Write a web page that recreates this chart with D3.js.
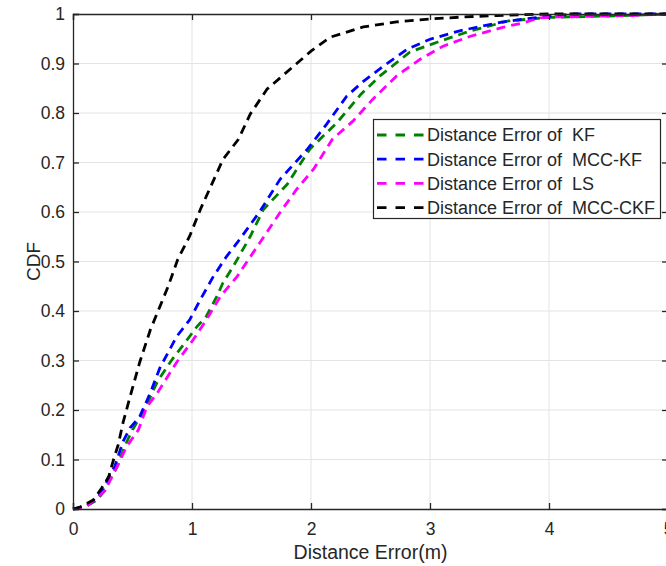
<!DOCTYPE html>
<html><head><meta charset="utf-8">
<script src="https://cdn.jsdelivr.net/npm/d3@7"></script>
<style>body{margin:0;background:#fff}svg{display:block}text{font-family:"Liberation Sans",Arial,Helvetica,sans-serif;fill:#262626;white-space:pre}</style>
</head><body><svg id="c" width="666" height="566"></svg>
<script>
const xTicks=[0,1,2,3,4,5];
const yTicks=[0,0.1,0.2,0.3,0.4,0.5,0.6,0.7,0.8,0.9,1];
const seriesNames=["Distance Error of  KF","Distance Error of  MCC-KF","Distance Error of  LS","Distance Error of  MCC-CKF"];
const seriesColors=["#008000","#0000ff","#ff00ff","#000000"];
const kfX=[0,0.1,0.2,0.27,0.32,0.37,0.44,0.5,0.6,0.71,0.83,0.96,1.04,1.12,1.21,1.26,1.32,1.38,1.49,1.6,1.8,1.99,2.22,2.42,2.58,2.83,3.06,3.34,3.66,4.0,4.5,5];
const kfY=[0,0.004,0.018,0.038,0.065,0.085,0.13,0.16,0.2,0.258,0.301,0.342,0.368,0.389,0.43,0.457,0.48,0.504,0.551,0.605,0.656,0.727,0.781,0.838,0.875,0.923,0.943,0.966,0.986,0.993,0.996,1];
const mkfX=[0,0.1,0.2,0.25,0.3,0.35,0.42,0.48,0.56,0.65,0.73,0.87,0.98,1.07,1.18,1.29,1.38,1.57,1.74,1.97,2.13,2.3,2.44,2.61,2.81,3.0,3.25,3.61,3.9,4.2,5];
const mkfY=[0,0.005,0.02,0.038,0.065,0.085,0.136,0.164,0.186,0.235,0.285,0.348,0.382,0.423,0.47,0.51,0.538,0.601,0.666,0.727,0.777,0.834,0.864,0.895,0.929,0.949,0.966,0.984,0.993,1,1];
const lsX=[0,0.1,0.2,0.27,0.37,0.45,0.55,0.62,0.71,0.87,1.01,1.12,1.24,1.38,1.57,1.74,1.88,2.02,2.18,2.35,2.52,2.72,2.92,3.11,3.34,3.61,3.78,3.92,4.07,4.3,4.7,5];
const lsY=[0,0.003,0.022,0.038,0.085,0.126,0.16,0.206,0.235,0.296,0.342,0.382,0.43,0.47,0.538,0.599,0.646,0.686,0.747,0.783,0.828,0.875,0.909,0.935,0.955,0.973,0.982,0.992,0.994,0.995,0.997,1];
const ckfX=[0,0.06,0.17,0.24,0.3,0.34,0.38,0.42,0.48,0.56,0.65,0.72,0.8,0.88,0.98,1.07,1.26,1.39,1.49,1.63,1.88,2.0,2.16,2.44,2.72,3.0,3.28,3.56,4.0,5];
const ckfY=[0,0.004,0.018,0.042,0.065,0.099,0.13,0.174,0.227,0.296,0.362,0.403,0.45,0.504,0.551,0.605,0.706,0.747,0.798,0.848,0.9,0.925,0.953,0.974,0.984,0.99,0.994,0.997,1,1];
const seriesX=[kfX,mkfX,lsX,ckfX], seriesY=[kfY,mkfY,lsY,ckfY];

const svg=d3.select("#c");
const L=73,R=668,T=14,B=509;
const x=d3.scaleLinear().domain([0,5]).range([L,R]);
const y=d3.scaleLinear().domain([0,1]).range([B,T]);
const axisCol="#262626";
// grid
const g=svg.append("g");
g.selectAll(".gx").data(xTicks.filter(d=>d>0&&d<5)).enter().append("line")
 .attr("x1",d=>x(d)).attr("x2",d=>x(d)).attr("y1",T).attr("y2",B).attr("stroke","#e3e3e3").attr("stroke-width",1);
g.selectAll(".gy").data(yTicks.filter(d=>d>0&&d<1)).enter().append("line")
 .attr("y1",d=>y(d)).attr("y2",d=>y(d)).attr("x1",L).attr("x2",R).attr("stroke","#e3e3e3").attr("stroke-width",1);
// series
const line=d3.line().x(d=>x(d[0])).y(d=>y(d[1]));
seriesX.forEach((xs,i)=>{
 const pts=xs.map((v,j)=>[v,seriesY[i][j]]);
 svg.append("path").datum(pts).attr("d",line).attr("fill","none").attr("stroke",seriesColors[i])
  .attr("stroke-width",2.8).attr("stroke-dasharray","9,6");
});
// axes
const ax=svg.append("g").attr("transform",`translate(0,${B})`).call(d3.axisBottom(x).tickValues(xTicks).tickSize(-6).tickPadding(14).tickFormat(d3.format("d")));
const ay=svg.append("g").attr("transform",`translate(${L},0)`).call(d3.axisLeft(y).tickValues(yTicks).tickSize(-6).tickPadding(8).tickFormat(d=>d===0||d===1?d3.format("d")(d):d3.format(".1f")(d)));
const at=svg.append("g").attr("transform",`translate(0,${T})`).call(d3.axisTop(x).tickValues(xTicks).tickSize(-6).tickFormat(""));
const ar=svg.append("g").attr("transform",`translate(${R},0)`).call(d3.axisRight(y).tickValues(yTicks).tickSize(-6).tickFormat(""));
[ax,ay,at,ar].forEach(a=>{a.selectAll("path").attr("stroke",axisCol).attr("stroke-width",1.3);
 a.selectAll("line").attr("stroke",axisCol).attr("stroke-width",1.3);
 a.selectAll("text").attr("font-size",17.5).attr("fill",axisCol).style("font-family","'Liberation Sans',Arial,sans-serif");});
// labels
svg.append("text").attr("x",(L+R)/2).attr("y",559).attr("text-anchor","middle").attr("font-size",19.5).text("Distance Error(m)");
svg.append("text").attr("transform",`translate(40,${(T+B)/2}) rotate(-90)`).attr("text-anchor","middle").attr("font-size",19).text("CDF");
// legend
const lg=svg.append("g");
lg.append("rect").attr("x",373.5).attr("y",119.5).attr("width",287).attr("height",99).attr("fill","#fff").attr("stroke",axisCol).attr("stroke-width",1.2);
seriesNames.forEach((n,i)=>{
 const yy=135+i*24.2;
 lg.append("line").attr("x1",377).attr("x2",424).attr("y1",yy).attr("y2",yy).attr("stroke",seriesColors[i]).attr("stroke-width",2.8).attr("stroke-dasharray","9.5,9");
 lg.append("text").attr("x",427).attr("y",yy).attr("dy","0.36em").attr("font-size",18).attr("fill","#000").text(n);
});
</script></body></html>
